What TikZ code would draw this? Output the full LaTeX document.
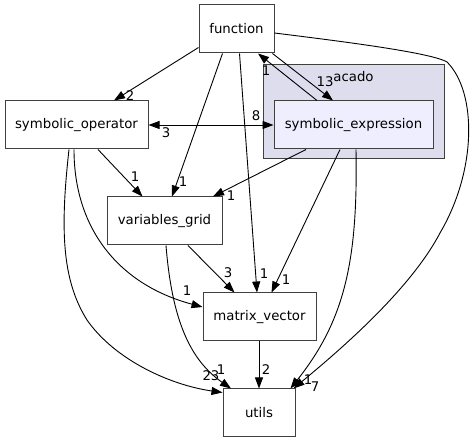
\documentclass[tikz,border=0pt]{standalone}
\usepackage{fontspec}
\setmainfont{DejaVu Sans}
\usepackage{xcolor}
\usepackage{tikz}
\usetikzlibrary{arrows.meta}
\usetikzlibrary{calc}

\definecolor{clusterfill}{HTML}{DDDDEE}
\definecolor{innerfill}{HTML}{EEEEFF}

\tikzset{
  dirbox/.style={draw=black!75, line width=1pt, fill=white, minimum height=48pt, inner sep=0pt, font=\fontsize{13.3}{16}\selectfont},
  dep/.style={draw=black, line width=0.9pt, -{Triangle[length=11pt,width=8pt]}},
  bidep/.style={draw=black, line width=0.9pt, {Triangle[length=11pt,width=8pt]}-{Triangle[length=11pt,width=8pt]}},
  num/.style={inner sep=0pt, font=\fontsize{13.3}{16}\selectfont}
}

\begin{document}
\begin{tikzpicture}[x=1pt,y=-1pt]
\useasboundingbox (0,0) rectangle (474,443);

% cluster acado
\node[draw=black!75, line width=1pt, fill=clusterfill, minimum width=181pt, minimum height=94pt, inner sep=0pt] (acado) at (353.5,112) {};
\node[num] (acadolabel) at (353.5,77) {acado};

\node[dirbox, minimum width=75pt] (function) at (236.5,29) {function};
\node[dirbox, minimum width=143pt] (symop) at (76.5,125) {symbolic\_operator};
\node[dirbox, minimum width=159pt, fill=innerfill] (symexpr) at (353.5,125) {symbolic\_expression};
\node[dirbox, minimum width=115pt] (vargrid) at (164.5,221) {variables\_grid};
\node[dirbox, minimum width=113pt] (matvec) at (259.5,317) {matrix\_vector};
\node[dirbox, minimum width=72pt] (utils) at (259,413) {utils};

\draw[dep] ([yshift=6pt]function.south west) -- ([xshift=37.5pt]symop.north);
\draw[dep] ([xshift=-14pt]function.south) -- ([xshift=7.5pt]vargrid.north);
\draw[dep] ([xshift=3pt]function.south) -- ([xshift=-2.5pt]matvec.north);
\draw[dep] ([xshift=-2pt]function.south east) -- ([xshift=-20.5pt]symexpr.north);
\draw[dep] ([xshift=-36.5pt]symexpr.north) -- ([xshift=21.5pt]function.south);
\draw[dep] ([yshift=-4pt]function.east) .. controls (330,40) and (430,52) .. (447,62)
  .. controls (477,92) and (477,170) .. (440,233)
  .. controls (410,290) and (340,350) .. ([xshift=-2pt]utils.north east);
\draw[bidep] (symop.east) -- (symexpr.west);
\draw[dep] ([xshift=21.5pt]symop.south) -- ([xshift=-22pt]vargrid.north);
\draw[dep] ([xshift=-2.5pt]symop.south) .. controls (74,230) and (120,285) .. ([yshift=10pt]matvec.west);
\draw[dep] ([xshift=-7.5pt]symop.south) .. controls (60,230) and (62,280) .. (87,320)
  .. controls (115,360) and (170,385) .. ([yshift=-4pt]utils.north west);
\draw[dep] ([xshift=-47.5pt]symexpr.south) -- ([xshift=48.5pt]vargrid.north);
\draw[dep] ([xshift=-13.5pt]symexpr.south) -- ([xshift=12pt]matvec.north);
\draw[dep] ([xshift=2.5pt]symexpr.south) .. controls (358,260) and (345,320) .. ([xshift=-5pt]utils.north east);
\draw[dep] ([xshift=23.5pt]vargrid.south) -- ([xshift=-25pt]matvec.north);
\draw[dep] ([xshift=1.5pt]vargrid.south) .. controls (172,320) and (190,360) .. ([xshift=-28pt]utils.north);
\draw[dep] ([xshift=-0.5pt]matvec.south) -- (utils.north);

% edge counts
\node[num] (c1) at (130,96) {2};
\node[num] (c2) at (166,133) {3};
\node[num] (c3) at (256,116) {8};
\node[num] (c4) at (135,177) {1};
\node[num] (c5) at (183,182) {1};
\node[num] (c6) at (231,196) {1};
\node[num] (c7) at (228,273) {3};
\node[num] (c8) at (264,274) {1};
\node[num] (c9) at (286,280) {1};
\node[num] (c10) at (187,291) {1};
\node[num] (c11) at (266,370) {2};
\node[num] (c12) at (211,376) {23};
\node[num] (c13) at (221,370) {1};
\node[num] (c14) at (308,380) {1};
\node[num] (c15) at (315,387) {7};
\node[num] (c16) at (325,82) {13};
\node[num] (c17) at (266,71) {1};
\end{tikzpicture}
\end{document}
